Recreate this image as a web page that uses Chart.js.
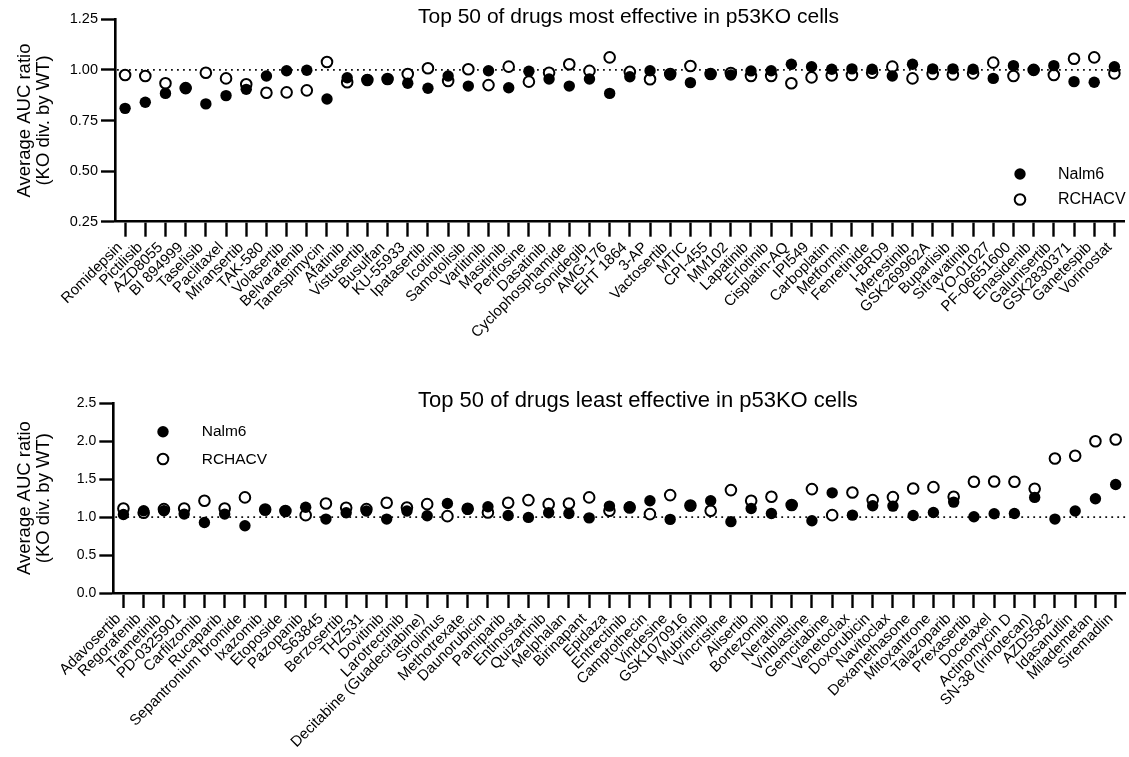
<!DOCTYPE html>
<html>
<head>
<meta charset="utf-8">
<script src="https://cdn.jsdelivr.net/npm/chart.js@4.4.1/dist/chart.umd.min.js"></script>
<style>
  html, body { margin: 0; padding: 0; background: #fff; }
  #wrap { position: relative; width: 1129px; height: 757px; overflow: hidden; }
  #wrap canvas { position: absolute; left: 0; }
</style>
</head>
<body>
<div id="wrap">
  <canvas id="mostChart" width="1129" height="380" style="top:0"></canvas>
  <canvas id="leastChart" width="1129" height="377" style="top:380px"></canvas>
</div>
<script>
// ---- data ----
const mostEffectiveDrugs = ['Romidepsin','Pictilisib','AZD8055','BI 894999','Taselisib','Paclitaxel','Miransertib','TAK-580','Volasertib','Belvarafenib','Tanespimycin','Afatinib','Vistusertib','Busulfan','KU-55933','Ipatasertib','Icotinib','Samotolisib','Varlitinib','Masitinib','Perifosine','Dasatinib','Cyclophosphamide','Sonidegib','AMG-176','EHT 1864','3-AP','Vactosertib','MTIC','CPI-455','MM102','Lapatinib','Erlotinib','Cisplatin-AQ','IPI549','Carboplatin','Metformin','Fenretinide','I-BRD9','Merestinib','GSK269962A','Buparlisib','Sitravatinib','YO-01027','PF-06651600','Enasidenib','Galunisertib','GSK2830371','Ganetespib','Vorinostat'];
const mostNalm6 = [0.81,0.84,0.884,0.909,0.832,0.873,0.904,0.97,0.996,0.998,0.856,0.961,0.952,0.953,0.934,0.909,0.97,0.92,0.996,0.912,0.993,0.955,0.92,0.955,0.884,0.966,0.996,0.975,0.937,0.98,0.975,0.995,0.996,1.028,1.016,1.003,1.005,1.003,0.97,1.028,1.005,1.005,1.003,0.958,1.021,1.0,1.021,0.942,0.939,1.016];
const mostRchacv = [0.975,0.97,0.934,0.91,0.986,0.958,0.929,0.887,0.889,0.899,1.039,0.939,0.95,0.955,0.98,1.008,0.945,1.003,0.925,1.016,0.942,0.986,1.028,0.995,1.062,0.99,0.954,0.98,1.019,0.98,0.985,0.97,0.97,0.934,0.963,0.973,0.975,0.986,1.016,0.958,0.98,0.977,0.983,1.036,0.97,1.0,0.975,1.055,1.062,0.983];
const mostYTicks = [0.25, 0.5, 0.75, 1.0, 1.25];

const leastEffectiveDrugs = ['Adavosertib','Regorafenib','Trametinib','PD-0325901','Carfilzomib','Rucaparib','Sepantronium bromide','Ixazomib','Etoposide','Pazopanib','S63845','Berzosertib','THZ531','Dovitinib','Larotrectinib','Decitabine (Guadecitabine)','Sirolimus','Methotrexate','Daunorubicin','Pamiparib','Entinostat','Quizartinib','Melphalan','Birinapant','Epidaza','Entrectinib','Camptothecin','Vindesine','GSK1070916','Mubritinib','Vincristine','Alisertib','Bortezomib','Neratinib','Vinblastine','Gemcitabine','Venetoclax','Doxorubicin','Navitoclax','Dexamethasone','Mitoxantrone','Talazoparib','Prexasertib','Docetaxel','Actinomycin D','SN-38 (Irinotecan)','AZD5582','Idasanutlin','Milademetan','Siremadlin'];
const leastNalm6 = [1.035,1.083,1.083,1.04,0.93,1.04,0.886,1.092,1.08,1.13,0.974,1.057,1.08,0.974,1.08,1.018,1.18,1.105,1.136,1.022,0.996,1.057,1.048,0.99,1.145,1.136,1.215,0.97,1.145,1.215,0.94,1.114,1.048,1.158,0.952,1.32,1.026,1.149,1.145,1.022,1.06,1.198,1.004,1.044,1.048,1.26,0.974,1.08,1.242,1.43];
const leastRchacv = [1.114,1.057,1.105,1.114,1.215,1.114,1.26,1.10,1.08,1.026,1.18,1.123,1.105,1.19,1.127,1.171,1.013,1.11,1.06,1.19,1.224,1.171,1.18,1.26,1.083,1.127,1.04,1.29,1.154,1.083,1.356,1.215,1.268,1.16,1.369,1.026,1.325,1.224,1.264,1.378,1.395,1.268,1.466,1.47,1.466,1.373,1.773,1.808,2.0,2.023];
const leastYTicks = [0, 0.5, 1.0, 1.5, 2.0, 2.5];

const seriesNames = ['Nalm6', 'RCHACV'];
const referenceRatio = 1.0;

// ---- styling ----
const FONT = "'Liberation Sans', Arial, Helvetica, sans-serif";
Chart.defaults.font.family = FONT;
Chart.defaults.color = '#000';

// Dotted reference line, panel title and inline legend
const panelDecor = {
  id: 'panelDecor',
  beforeDatasetsDraw(chart, args, o) {
    const {ctx, chartArea} = chart;
    const y = chart.scales.y.getPixelForValue(o.refValue);
    ctx.save();
    ctx.strokeStyle = '#111';
    ctx.lineWidth = 1.8;
    ctx.setLineDash([1.8, 4.2]);
    ctx.beginPath();
    ctx.moveTo(chartArea.left + 2, y);
    ctx.lineTo(chartArea.right, y);
    ctx.stroke();
    ctx.restore();
  },
  afterDraw(chart, args, o) {
    const {ctx} = chart;
    ctx.save();
    ctx.fillStyle = '#000';
    ctx.font = o.titleSize + 'px ' + FONT;
    ctx.textAlign = 'left';
    ctx.textBaseline = 'alphabetic';
    ctx.fillText(o.title, o.titleX, o.titleY);

    ctx.font = o.legendSize + 'px ' + FONT;
    ctx.textBaseline = 'middle';
    chart.data.datasets.forEach((ds, i) => {
      const my = o.legendY + i * o.legendGap;
      ctx.beginPath();
      ctx.arc(o.legendX, my, ds.pointRadius, 0, Math.PI * 2);
      ctx.fillStyle = ds.pointBackgroundColor;
      ctx.fill();
      ctx.lineWidth = ds.pointBorderWidth;
      ctx.strokeStyle = ds.pointBorderColor;
      if (ds.pointBorderWidth > 0) ctx.stroke();
      ctx.fillStyle = '#000';
      ctx.fillText(ds.label, o.legendTextX, my + 0.5);
    });
    ctx.restore();
  }
};

function makePanel(canvasId, cfg) {
  return new Chart(document.getElementById(canvasId), {
    type: 'line',
    data: {
      labels: cfg.labels,
      datasets: [
        {
          label: seriesNames[0], data: cfg.nalm6, showLine: false,
          pointRadius: 5.7, pointBackgroundColor: '#000', pointBorderColor: '#000',
          pointBorderWidth: 0, pointHoverRadius: 5.7
        },
        {
          label: seriesNames[1], data: cfg.rchacv, showLine: false,
          pointRadius: 5.3, pointBackgroundColor: '#fff', pointBorderColor: '#000',
          pointBorderWidth: 2, pointHoverRadius: 5.3
        }
      ]
    },
    options: {
      responsive: false,
      animation: false,
      devicePixelRatio: 1,
      events: [],
      layout: { autoPadding: false, padding: cfg.padding },
      plugins: {
        legend: { display: false },
        tooltip: { enabled: false },
        panelDecor: cfg.decor
      },
      scales: {
        x: {
          type: 'category',
          offset: true,
          grid: { display: true, drawOnChartArea: false, offset: false, drawTicks: true,
                  tickLength: 15, tickWidth: 2.4, tickColor: '#000' },
          border: { display: true, color: '#000', width: 2.6 },
          ticks: { autoSkip: false, maxRotation: 45, minRotation: 45, padding: cfg.xPad,
                   labelOffset: cfg.xLabelOffset, color: '#000',
                   font: { family: FONT, size: cfg.xFont } },
          afterFit(scale) { scale.height = cfg.xHeight; scale.paddingLeft = 0; scale.paddingRight = 0; }
        },
        y: {
          type: 'linear',
          min: cfg.yTicks[0],
          max: cfg.yTicks[cfg.yTicks.length - 1],
          afterBuildTicks(scale) { scale.ticks = cfg.yTicks.map(v => ({ value: v })); },
          grid: { display: true, drawOnChartArea: false, drawTicks: true,
                  tickLength: 14, tickWidth: 2.4, tickColor: '#000' },
          border: { display: true, color: '#000', width: 2.6 },
          ticks: { padding: 3, color: '#000', font: { family: FONT, size: cfg.yFont },
                   callback: v => Number(v).toFixed(cfg.decimals) },
          title: { display: true, text: ['Average AUC ratio', '(KO div. by WT)'], color: '#000',
                   font: { family: FONT, size: 18.5, lineHeight: 1.02 },
                   padding: { top: 15.5, bottom: 0 } },
          afterFit(scale) { scale.width = cfg.yWidth; scale.paddingTop = 0; scale.paddingBottom = 0; }
        }
      }
    },
    plugins: [panelDecor]
  });
}

makePanel('mostChart', {
  labels: mostEffectiveDrugs, nalm6: mostNalm6, rchacv: mostRchacv,
  yTicks: mostYTicks, decimals: 2,
  padding: { top: 19.3, left: 0, right: 4.5, bottom: 0 },
  yWidth: 115, xHeight: 158.3, xFont: 15, yFont: 14.5, xPad: 2, xLabelOffset: -5,
  decor: { refValue: referenceRatio,
           title: 'Top 50 of drugs most effective in p53KO cells', titleSize: 21, titleX: 418, titleY: 23.3,
           legendX: 1020, legendY: 174, legendGap: 25.5, legendTextX: 1058, legendSize: 16 }
});

makePanel('leastChart', {
  labels: leastEffectiveDrugs, nalm6: leastNalm6, rchacv: leastRchacv,
  yTicks: leastYTicks, decimals: 1,
  padding: { top: 23.3, left: 0, right: 3.2, bottom: 0 },
  yWidth: 113.3, xHeight: 164, xFont: 15, yFont: 14, xPad: 2, xLabelOffset: -5,
  decor: { refValue: referenceRatio,
           title: 'Top 50 of drugs least effective in p53KO cells', titleSize: 22, titleX: 418, titleY: 26.7,
           legendX: 163, legendY: 51.7, legendGap: 27.3, legendTextX: 201.7, legendSize: 15.5 }
});
</script>
</body>
</html>
